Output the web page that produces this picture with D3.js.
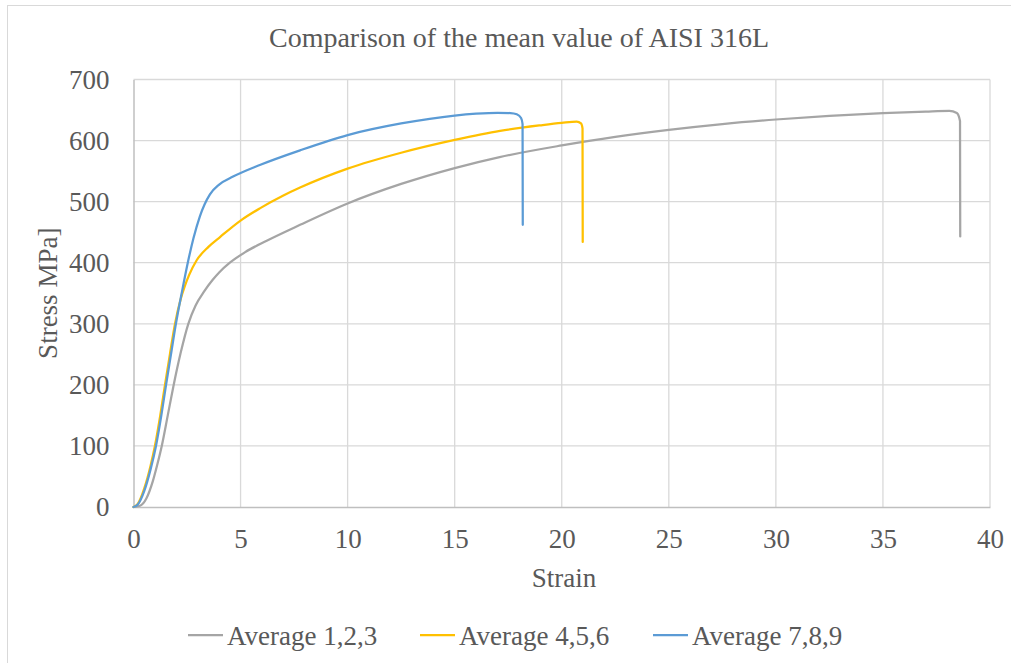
<!DOCTYPE html>
<html>
<head>
<meta charset="utf-8">
<script src="https://cdn.jsdelivr.net/npm/d3@7"></script>
<style>
  html, body { margin: 0; padding: 0; background: #fff; }
  svg { display: block; }
</style>
</head>
<body>
<svg id="chart" width="1011" height="663"></svg>
<script>
// ---- Data (strain %, stress MPa) ----
const seriesNames = ["Average 1,2,3", "Average 4,5,6", "Average 7,8,9"];
const seriesColors = ["#a5a5a5", "#ffc000", "#5b9bd5"];

const avg123 = [
  [0,0],[0.3,2],[0.6,14],[0.9,42],[1.1,68],[1.32,100],[1.6,150],[1.86,197],[2.2,252],
  [2.56,300],[2.9,330],[3.3,353],[3.7,372],[4.0,384],[4.5,400],[5.2,417],[6.22,436],
  [7.78,462],[10,497],[12.5,529],[15,555],[17.1,573],[20,592],[22.5,606],[25,617.5],
  [27.5,627],[30,634.5],[32.5,640.5],[35,645],[37,647.5],[38.1,648.5],[38.45,645],[38.6,632],[38.61,443]
];
const avg456 = [
  [0,0],[0.2,5],[0.5,30],[0.8,68],[1.0,100],[1.25,150],[1.47,200],[1.7,250],[1.94,300],
  [2.2,340],[2.4,362],[2.6,380],[2.95,404],[3.5,426],[4.04,442],[5,469],[5.9,489],[7,510],
  [7.78,523],[10,554],[12.5,580],[15,601],[17.12,616],[19,625],[20,629],[20.7,631],
  [20.9,628],[20.97,620],[20.98,434]
];
const avg789 = [
  [0,0],[0.2,4],[0.5,26],[0.8,62],[1.05,100],[1.3,150],[1.52,200],[1.75,250],[1.98,300],
  [2.25,350],[2.56,404],[2.8,440],[3.1,476],[3.57,512],[4.0,528],[4.65,541],[5.9,560],
  [7.78,584],[10,609],[12.5,628],[15,641],[16,644],[17,645.5],[17.6,645],[17.9,643],
  [18.1,637],[18.17,627],[18.18,462]
];
const seriesData = [avg123, avg456, avg789];

const xTicks = [0,5,10,15,20,25,30,35,40];
const yTicks = [0,100,200,300,400,500,600,700];

const titleText = "Comparison of the mean value of AISI 316L";
const xLabel = "Strain";
const yLabel = "Stress MPa]";

// ---- Layout ----
const FONT = '"Liberation Serif", "Times New Roman", Times, serif';
const TXT = "#595959";
const svg = d3.select("#chart");
const plot = { left: 133.5, right: 990, top: 79.5, bottom: 507 };

const x = d3.scaleLinear().domain([0, 40]).range([plot.left, plot.right]);
const y = d3.scaleLinear().domain([0, 700]).range([plot.bottom, plot.top]);

// chart border
svg.append("rect")
  .attr("x", 7.5).attr("y", 5.5).attr("width", 1020).attr("height", 680)
  .attr("fill", "none").attr("stroke", "#d9d9d9").attr("stroke-width", 1);

// title
svg.append("text")
  .attr("x", 519).attr("y", 47)
  .attr("text-anchor", "middle")
  .attr("font-family", FONT)
  .style("font-family", FONT).style("font-size", "28px").style("fill", TXT)
  .text(titleText);

// gridlines
const grid = svg.append("g");
grid.selectAll("line.h").data(yTicks.filter(d => d > 0)).enter().append("line")
  .attr("x1", plot.left).attr("x2", plot.right)
  .attr("y1", d => y(d)).attr("y2", d => y(d))
  .attr("stroke", "#d9d9d9").attr("stroke-width", 1.3);
grid.selectAll("line.v").data(xTicks.filter(d => d > 0)).enter().append("line")
  .attr("y1", plot.top).attr("y2", plot.bottom)
  .attr("x1", d => x(d)).attr("x2", d => x(d))
  .attr("stroke", "#d9d9d9").attr("stroke-width", 1.3);

// axes
const xAxis = d3.axisBottom(x).tickValues(xTicks).tickSize(0).tickPadding(22).tickFormat(d3.format("d"));
const yAxis = d3.axisLeft(y).tickValues(yTicks).tickSize(0).tickPadding(24).tickFormat(d3.format("d"));

const gx = svg.append("g").attr("transform", `translate(0,${plot.bottom})`).call(xAxis);
const gy = svg.append("g").attr("transform", `translate(${plot.left},0)`).call(yAxis);
[gx, gy].forEach(g => {
  g.attr("font-family", FONT);
  g.select(".domain").attr("stroke", "#bfbfbf").attr("stroke-width", 1.5);
  g.selectAll("text").style("font-size", "27px").style("fill", TXT).style("font-family", FONT);
});
gx.selectAll("text").attr("dy", "0.71em");

// axis labels
svg.append("text")
  .attr("x", 564).attr("y", 587)
  .attr("text-anchor", "middle")
  .attr("font-family", FONT)
  .style("font-family", FONT).style("font-size", "27px").style("fill", TXT)
  .text(xLabel);
svg.append("text")
  .attr("transform", `translate(57,${(plot.top + plot.bottom) / 2}) rotate(-90)`)
  .attr("text-anchor", "middle")
  .attr("font-family", FONT)
  .style("font-family", FONT).style("font-size", "27px").style("fill", TXT)
  .text(yLabel);

// lines
const line = d3.line()
  .x(d => x(d[0])).y(d => y(d[1]))
  .curve(d3.curveMonotoneX);

svg.append("g").selectAll("path").data(seriesData).enter().append("path")
  .attr("d", d => line(d))
  .attr("fill", "none")
  .attr("stroke", (d, i) => seriesColors[i])
  .attr("stroke-width", 2.25)
  .attr("stroke-linejoin", "round")
  .attr("stroke-linecap", "round");

// legend
const legendX = [188, 420, 653];
const legendY = 635;
const lg = svg.append("g");
seriesNames.forEach((name, i) => {
  lg.append("line")
    .attr("x1", legendX[i]).attr("x2", legendX[i] + 35)
    .attr("y1", legendY).attr("y2", legendY)
    .attr("stroke", seriesColors[i]).attr("stroke-width", 2.25);
  lg.append("text")
    .attr("x", legendX[i] + 39).attr("y", legendY + 10)
    .attr("font-family", FONT)
    .style("font-family", FONT).style("font-size", "27px").style("fill", TXT)
    .text(name);
});
</script>
</body>
</html>
